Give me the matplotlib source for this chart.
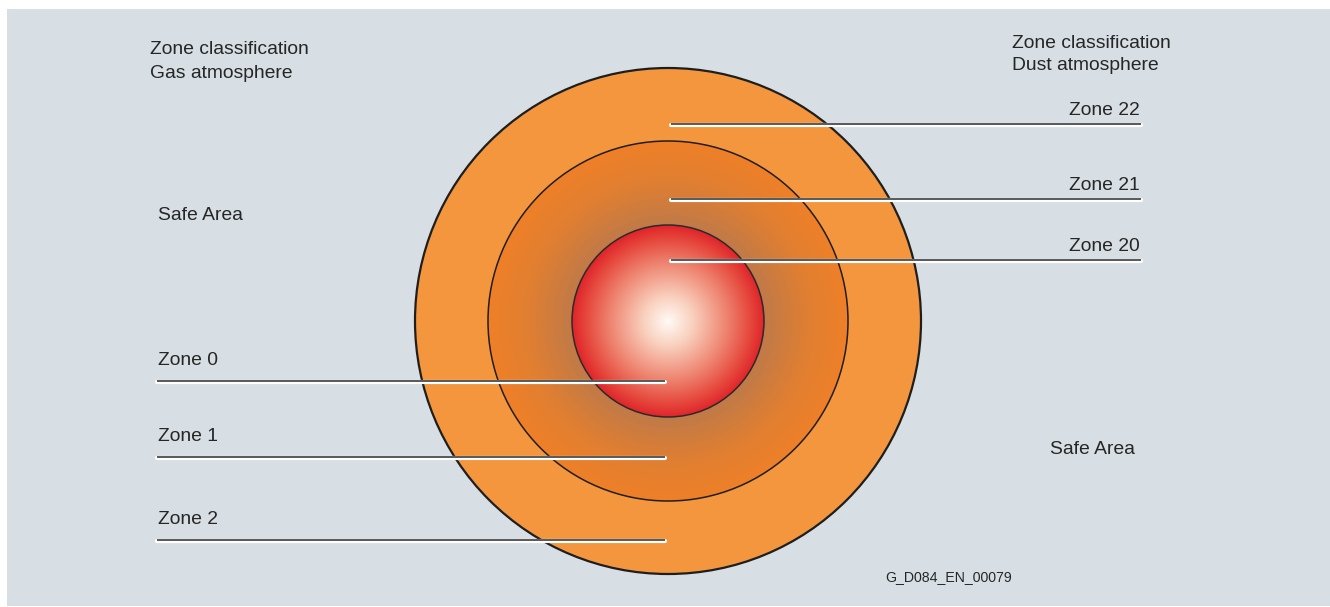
#!/usr/bin/env python3

import numpy as np
import matplotlib.pyplot as plt
from matplotlib.patches import Circle, Rectangle
from matplotlib.colors import LinearSegmentedColormap

# zone rings (radius in px, centre shared)
centre = (668, 321)
radii = [253, 180, 96]          # outer (22/2), middle (21/1), inner (20/0)

# gas zones, left side labels
gas_zones = ['Zone 0', 'Zone 1', 'Zone 2']
gas_line_y = [381, 457, 540]
# dust zones, right side labels
dust_zones = ['Zone 22', 'Zone 21', 'Zone 20']
dust_line_y = [124, 199, 260]

bg = '#d7dfe4'
txt = '#262626'
fs = 13.9

plt.rcParams['font.family'] = ['Liberation Sans', 'DejaVu Sans']

fig = plt.figure(figsize=(13.3, 6.07), dpi=100)
ax = fig.add_axes([0, 0, 1, 1])
ax.set_xlim(0, 1330)
ax.set_ylim(607, 0)
ax.axis('off')

ax.add_patch(Rectangle((7, 9), 1323, 597, facecolor=bg, edgecolor='none', zorder=0))

cx, cy = centre
r_out, r_mid, r_in = radii

# outer ring, flat orange
outer = Circle(centre, r_out, facecolor='#f3963e', edgecolor='#1e1e1e', lw=1.6, zorder=1)
ax.add_patch(outer)

# middle ring, radial gradient brownish -> orange
yy, xx = np.mgrid[cy - r_mid:cy + r_mid:1.0, cx - r_mid:cx + r_mid:1.0]
dist = np.hypot(xx - cx, yy - cy)
mid_cmap = LinearSegmentedColormap.from_list(
    'mid', [(0.0, '#b87a4e'), (0.55, '#c27a47'), (0.78, '#e07f32'), (1.0, '#ef8028')])
im = ax.imshow(dist / r_mid, cmap=mid_cmap, vmin=0, vmax=1,
               extent=(cx - r_mid, cx + r_mid, cy + r_mid, cy - r_mid),
               interpolation='bilinear', zorder=2)
mid_clip = Circle(centre, r_mid, transform=ax.transData)
im.set_clip_path(mid_clip)
ax.add_patch(Circle(centre, r_mid, facecolor='none', edgecolor='#1e1e1e', lw=1.1, zorder=3))

# inner sphere, white centre -> red
yy, xx = np.mgrid[cy - r_in:cy + r_in:0.5, cx - r_in:cx + r_in:0.5]
dist = np.hypot(xx - cx, yy - cy)
in_cmap = LinearSegmentedColormap.from_list(
    'inner', [(0.0, '#fffaf6'), (0.25, '#f9d2c0'), (0.6, '#ee8672'), (0.85, '#e64a3e'), (1.0, '#e0242a')])
im2 = ax.imshow(dist / r_in, cmap=in_cmap, vmin=0, vmax=1,
                extent=(cx - r_in, cx + r_in, cy + r_in, cy - r_in),
                interpolation='bilinear', zorder=4)
im2.set_clip_path(Circle(centre, r_in, transform=ax.transData))
ax.add_patch(Circle(centre, r_in, facecolor='none', edgecolor='#2a2a2a', lw=1.1, zorder=5))


def leader(x0, x1, y):
    ax.plot([x0, x1], [y + 0.5, y + 0.5], color='white', lw=3.0,
            solid_capstyle='round', zorder=6)
    ax.plot([x0, x1], [y, y], color='#3c3c3c', lw=1.2,
            solid_capstyle='butt', zorder=7)


for name, y in zip(gas_zones, gas_line_y):
    leader(157, 665, y)
    ax.text(158, y - 16, name, fontsize=fs, color=txt, ha='left', va='baseline', zorder=8)

for name, y in zip(dust_zones, dust_line_y):
    leader(671, 1141, y)
    ax.text(1140, y - 9, name, fontsize=fs, color=txt, ha='right', va='baseline', zorder=8)

ax.text(150, 50, 'Zone classification', fontsize=fs, color=txt, va='center')
ax.text(150, 73, 'Gas atmosphere', fontsize=fs, color=txt, va='center')
ax.text(1012, 43, 'Zone classification', fontsize=fs, color=txt, va='center')
ax.text(1012, 65, 'Dust atmosphere', fontsize=fs, color=txt, va='center')
ax.text(158, 216, 'Safe Area', fontsize=fs, color=txt, va='center')
ax.text(1050, 450, 'Safe Area', fontsize=fs, color=txt, va='center')
ax.text(885, 577, 'G_D084_EN_00079', fontsize=10.2, color=txt, va='center')

fig.savefig('out.png', dpi=100, facecolor='white')
